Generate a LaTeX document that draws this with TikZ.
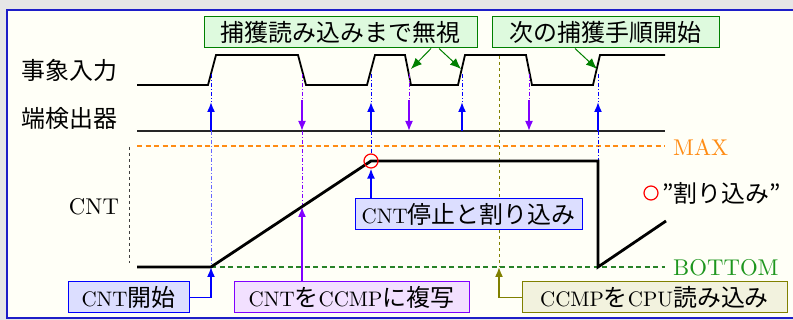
\documentclass[tikz,border=0pt]{standalone}
\usepackage{fontspec}
\newfontfamily\jp[Scale=1.14]{Noto Sans CJK JP}
\usetikzlibrary{arrows.meta}
\newcommand\latb[1]{\scalebox{2.1}{\fontsize{10}{12}\selectfont #1}}
\newcommand\latl[1]{\scalebox{2.28}{\fontsize{10}{12}\selectfont #1}}
\definecolor{bgc}{RGB}{255,255,247}
\definecolor{outc}{RGB}{230,230,230}
\definecolor{framec}{RGB}{30,30,200}
\definecolor{bl}{RGB}{0,0,255}
\definecolor{blfill}{RGB}{220,222,255}
\definecolor{pu}{RGB}{128,0,255}
\definecolor{pufill}{RGB}{242,224,255}
\definecolor{gr}{RGB}{0,128,0}
\definecolor{grfill}{RGB}{222,250,222}
\definecolor{ol}{RGB}{128,128,0}
\definecolor{olfill}{RGB}{242,242,222}
\definecolor{orc}{RGB}{255,140,20}
\definecolor{btmtxt}{RGB}{30,150,30}
\definecolor{btmline}{RGB}{40,130,40}
\tikzset{
  txt/.style={font=\fontsize{21}{24}\selectfont, inner sep=0pt},
  lbox/.style={draw=#1, fill=#1fill, line width=1pt, minimum height=31pt, inner xsep=2pt, inner ysep=0pt, font=\fontsize{21}{24}\selectfont},
  sig/.style={line width=1.8pt, black},
  dd/.style={dash pattern=on 4pt off 2pt on 1pt off 2pt, line width=1pt},
  tip/.style={-{Latex[length=10pt,width=8pt]}, line width=1.6pt},
}
\begin{document}
\begin{tikzpicture}[x=1pt,y=-1pt]
\useasboundingbox (0,0) rectangle (793,320);
\fill[outc] (0,0) rectangle (793,320);
\fill[bgc] (7,10) rectangle (793,317);
\draw[framec, line width=2pt] (800,10) -- (7,10) -- (7,318) -- (800,318);

% labels
\node[txt, anchor=west] (ev) at (21,70) {\jp 事象入力};
\node[txt, anchor=west] (ed) at (21,118) {\jp 端検出器};
\node[txt] (cntl) at (94,207) {\latl{CNT}};
\node[txt, anchor=west, text=orc] (max) at (673,147) {\latl{MAX}};
\node[txt, anchor=west, text=btmtxt] (bot) at (673,268) {\latl{BOTTOM}};
\node[draw=red, circle, line width=1.2pt, minimum size=14pt, inner sep=0pt] (leg) at (651,193) {};
\node[txt, anchor=west] (legt) at (662,193) {\jp ”割り込み”};

% reference lines
\coordinate (mx1) at (137,146); \coordinate (mx2) at (665,146);
\draw[orc, line width=1.3pt, dash pattern=on 5pt off 3.5pt] (mx1) -- (mx2);
\coordinate (c0) at (137,267); \coordinate (c1) at (211,267); \coordinate (c2) at (371,161);
\coordinate (c3) at (598,161); \coordinate (c4) at (598,267); \coordinate (c5) at (666,221);
\coordinate (bt2) at (665,267);
\draw[btmline, line width=1.3pt, dash pattern=on 5pt off 3.5pt] (c1) -- (bt2);
\coordinate (ax1) at (129,147); \coordinate (ax2) at (129,263);
\draw[black!75, line width=1pt, dash pattern=on 3pt off 3pt] (ax1) -- (ax2);

% event input signal
\draw[sig] (137,85) -- (208,85) -- (216,55) -- (298,55) -- (306,85) -- (367,85) -- (375,55)
  -- (405,55) -- (411,85) -- (458,85) -- (465,55) -- (526,55) -- (532,85) -- (593,85)
  -- (600,55) -- (665,55);
% edge detector line
\coordinate (d1) at (137,131); \coordinate (d2) at (665,131);
\draw[line width=1.8pt, black!85] (d1) -- (d2);

% olive dashed
\coordinate (o1) at (499,56); \coordinate (o2) at (499,267);
\draw[ol, line width=1pt, dash pattern=on 3pt off 3pt] (o1) -- (o2);

% edge arrows: blue up
\foreach \x/\n in {211/a,371/b,462/c,598/d}{
  \coordinate (u\n s) at (\x,131); \coordinate (u\n t) at (\x,102); \coordinate (u\n e) at (\x,74);
  \draw[bl, dd] (u\n e) -- (u\n t);
  \draw[bl, tip] (u\n s) -- (u\n t);
}
% purple down
\foreach \x/\n in {302/a,409/b,529/c}{
  \coordinate (p\n s) at (\x,100); \coordinate (p\n t) at (\x,131); \coordinate (p\n e) at (\x,74);
  \draw[pu, dd] (p\n e) -- (p\n s);
  \draw[pu, tip] (p\n s) -- (p\n t);
}
% dashed continuation
\coordinate (r1) at (302,207);
\draw[bl!60, dd] (uas) -- (c1);
\draw[pu, dd] (pat) -- (r1);
\draw[bl, dd] (ubs) -- (371,154);
\draw[bl, dd] (uds) -- (c3);

% CNT line
\draw[line width=2.8pt, black] (c0) -- (c1) -- (c2) -- (c3) -- (c4) -- (c5);
\node[draw=red, circle, line width=1.2pt, minimum size=14pt, inner sep=0pt] (ci) at (c2) {};

% top boxes
\node[lbox=gr, minimum width=273pt] (b1) at (340.5,32.5) {\jp 捕獲読み込みまで無視};
\node[lbox=gr, minimum width=227pt] (b2) at (605.5,32.5) {\jp 次の捕獲手順開始};
\coordinate (g1) at (411,69); \coordinate (g2) at (461,69); \coordinate (g3) at (597,69);
\draw[gr, line width=1pt, -{Latex[length=11pt,width=9pt]}] (b1.south -| 431,0) -- (g1);
\draw[gr, line width=1pt, -{Latex[length=11pt,width=9pt]}] (b1.south -| 439,0) -- (g2);
\draw[gr, line width=1pt, -{Latex[length=11pt,width=9pt]}] (b2.south -| 575,0) -- (g3);

% bottom boxes
\node[lbox=bl, minimum width=121pt] (k1) at (128.5,297.5) {\latb{CNT}{\jp 開始}};
\node[lbox=pu, minimum width=235pt] (k2) at (351.5,297.5) {\latb{CNT}{\jp を}\latb{CCMP}{\jp に複写}};
\node[lbox=bl, minimum width=227pt] (k3) at (468.5,214) {\latb{CNT}{\jp 停止と割り込み}};
\node[lbox=ol, minimum width=265pt] (k4) at (654.5,297.5) {\latb{CCMP}{\jp を}\latb{CPU}{\jp 読み込み}};

\draw[bl, tip] (k1.east) -| (c1);
\draw[pu, tip] (k2.north -| r1) -- (r1);
\draw[bl, tip] (k3.north -| c2) -- (ci.south);
\draw[ol, tip] (k4.west) -| (o2);
\end{tikzpicture}
\end{document}
